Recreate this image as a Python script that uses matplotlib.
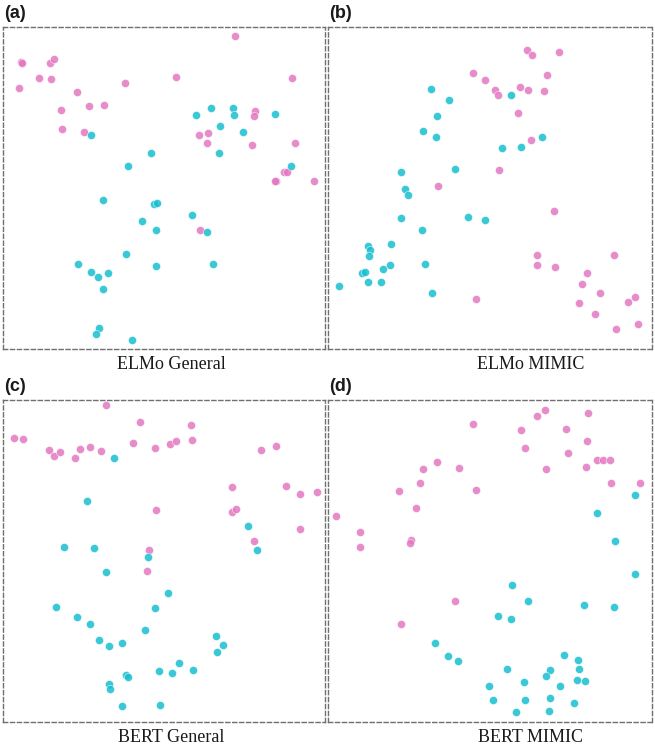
import numpy as np
import matplotlib
matplotlib.use("Agg")
import matplotlib.pyplot as plt

# ----------------------- Data (2-D embedding coords) -----------------------
PINK = "#e377c2"
CYAN = "#17becf"

a_pink = [(232, 313), (18, 287), (19, 286), (47, 286), (51, 290), (36, 271), (48, 270), (16, 261),
          (74, 257), (122, 266), (173, 272), (289, 271), (58, 239), (86, 243), (101, 244), (59, 220),
          (81, 217), (252, 238), (251, 233), (196, 214), (205, 216), (204, 206), (249, 204), (292, 206),
          (281, 177), (284, 177), (273, 168), (272, 168), (311, 168), (197, 119)]
a_cyan = [(193, 234), (208, 241), (230, 241), (231, 234), (272, 235), (217, 223), (240, 217), (88, 214),
          (148, 196), (216, 196), (125, 183), (288, 183), (100, 149), (151, 145), (154, 146), (139, 128),
          (189, 134), (153, 119), (204, 117), (123, 95), (75, 85), (153, 83), (210, 85), (88, 77),
          (95, 72), (105, 76), (100, 60), (96, 21), (93, 15), (129, 9)]

b_pink = [(199, 299), (204, 294), (231, 297), (145, 276), (157, 269), (219, 274), (167, 259), (170, 254),
          (192, 262), (200, 259), (216, 258), (190, 236), (203, 209), (171, 179), (110, 163), (226, 138),
          (209, 94), (209, 84), (227, 82), (286, 94), (259, 76), (254, 65), (272, 56), (148, 50),
          (251, 46), (300, 47), (307, 52), (267, 35), (288, 20), (310, 25)]
b_cyan = [(103, 260), (121, 249), (183, 254), (109, 233), (95, 218), (108, 212), (214, 212), (174, 201),
          (193, 202), (73, 177), (127, 180), (77, 160), (80, 154), (73, 131), (94, 119), (140, 132),
          (157, 129), (40, 103), (42, 99), (41, 93), (63, 105), (62, 84), (55, 80), (97, 85),
          (34, 76), (37, 77), (40, 67), (53, 67), (11, 63), (104, 56)]

c_pink = [(103, 317), (137, 300), (188, 297), (11, 284), (20, 283), (46, 272), (51, 266), (57, 270),
          (72, 264), (77, 273), (87, 275), (98, 271), (130, 279), (152, 274), (167, 278), (173, 281),
          (189, 282), (258, 272), (273, 276), (229, 235), (283, 236), (297, 228), (314, 230), (153, 212),
          (229, 210), (233, 213), (297, 193), (251, 181), (146, 172), (144, 151)]
c_cyan = [(111, 264), (84, 221), (245, 196), (61, 175), (91, 174), (254, 172), (145, 165), (103, 150),
          (165, 129), (53, 115), (152, 114), (74, 105), (87, 98), (142, 92), (96, 82), (106, 76),
          (119, 79), (213, 86), (220, 77), (214, 70), (176, 59), (156, 51), (169, 49), (190, 52),
          (123, 47), (125, 45), (106, 38), (107, 33), (119, 16), (157, 17)]

d_pink = [(217, 312), (209, 306), (260, 309), (145, 298), (193, 292), (238, 293), (259, 281), (197, 274),
          (240, 269), (269, 262), (275, 262), (282, 262), (258, 255), (218, 253), (109, 260), (131, 254),
          (95, 253), (92, 239), (71, 231), (148, 232), (283, 239), (312, 239), (88, 214), (8, 206),
          (32, 190), (32, 175), (83, 182), (82, 179), (127, 121), (73, 98)]
d_cyan = [(307, 227), (269, 209), (287, 181), (307, 148), (184, 137), (200, 121), (256, 117), (286, 115),
          (170, 106), (183, 103), (107, 79), (120, 66), (130, 61), (236, 67), (250, 62), (251, 53),
          (179, 53), (222, 52), (218, 46), (249, 42), (257, 41), (196, 40), (232, 36), (161, 36),
          (165, 22), (197, 22), (222, 24), (246, 19), (188, 10), (221, 11)]

panel_letters = ["(a)", "(b)", "(c)", "(d)"]
panel_titles = ["ELMo General", "ELMo MIMIC", "BERT General", "BERT MIMIC"]
panel_data = [(a_pink, a_cyan), (b_pink, b_cyan), (c_pink, c_cyan), (d_pink, d_cyan)]

# ----------------------- Layout (pixel boxes: left, top, right, bottom) -----------------------
W, H = 655, 745
boxes = [(3, 27, 325, 349), (328, 27, 652, 349), (3, 400, 325, 722), (328, 400, 652, 722)]
title_x = [171, 531, 171, 531]

fig = plt.figure(figsize=(W / 100, H / 100), dpi=100)

for i, (l, t, r, b) in enumerate(boxes):
    ax = fig.add_axes([l / W, 1 - b / H, (r - l) / W, (b - t) / H])
    pink, cyan = panel_data[i]
    pink = np.array(pink)
    cyan = np.array(cyan)
    ax.scatter(pink[:, 0], pink[:, 1], s=34, color=PINK, alpha=0.85, edgecolors="white", linewidths=0.4)
    ax.scatter(cyan[:, 0], cyan[:, 1], s=34, color=CYAN, alpha=0.85, edgecolors="white", linewidths=0.4)
    ax.set_xlim(0, r - l)
    ax.set_ylim(0, b - t)
    ax.set_xticks([])
    ax.set_yticks([])
    for sp in ax.spines.values():
        sp.set_linestyle((0, (3, 2)))
        sp.set_linewidth(1.0)
        sp.set_edgecolor("#707070")

    fig.text((l + 1) / W, 1 - (t - 22) / H, panel_letters[i], ha="left", va="top",
             fontsize=13, fontweight="bold", family="Liberation Sans", color="#1a1a1a")
    fig.text(title_x[i] / W, 1 - (b + 20) / H, panel_titles[i], ha="center", va="baseline",
             fontsize=13, family="Liberation Serif", color="#1a1a1a")

fig.savefig("out.png", dpi=100)
plt.close(fig)
